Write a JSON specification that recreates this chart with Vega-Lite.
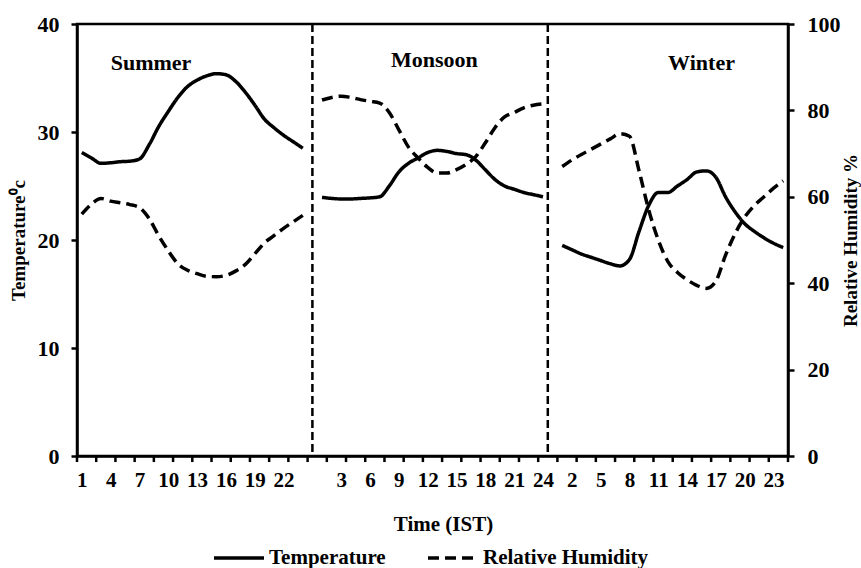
{
  "$schema": "https://vega.github.io/schema/vega-lite/v6.json",
  "width": 711,
  "height": 432,
  "autosize": {"type": "none"},
  "padding": {"left": 77, "top": 24, "right": 73, "bottom": 112},
  "background": "white",
  "config": {
    "view": {"stroke": "black", "strokeWidth": 2.5},
    "font": "Liberation Serif",
    "axis": {
      "grid": false,
      "domainColor": "black",
      "domainWidth": 2.5,
      "tickColor": "black",
      "tickWidth": 2.5,
      "tickSize": 6,
      "labelColor": "black",
      "labelFont": "Liberation Serif",
      "labelFontWeight": "bold",
      "labelFontSize": 22,
      "titleColor": "black",
      "titleFont": "Liberation Serif",
      "titleFontWeight": "bold",
      "titleFontSize": 19
    },
    "axisX": {"labelOverlap": false, "labelFlush": false, "labelBound": false, "labelFontSize": 21, "titleFontSize": 21}
  },
  "datasets": {
    "climate": [
      {"idx": 1, "season": "Summer", "temp": 28.1, "rh": 56.0},
      {"idx": 2, "season": "Summer", "temp": 27.6, "rh": 58.3},
      {"idx": 3, "season": "Summer", "temp": 27.1, "rh": 59.6},
      {"idx": 4, "season": "Summer", "temp": 27.15, "rh": 59.0},
      {"idx": 5, "season": "Summer", "temp": 27.25, "rh": 58.6},
      {"idx": 6, "season": "Summer", "temp": 27.3, "rh": 58.2},
      {"idx": 7, "season": "Summer", "temp": 27.5, "rh": 57.5},
      {"idx": 8, "season": "Summer", "temp": 28.8, "rh": 55.0},
      {"idx": 9, "season": "Summer", "temp": 30.5, "rh": 51.0},
      {"idx": 10, "season": "Summer", "temp": 31.9, "rh": 47.5},
      {"idx": 11, "season": "Summer", "temp": 33.2, "rh": 44.5},
      {"idx": 12, "season": "Summer", "temp": 34.2, "rh": 43.0},
      {"idx": 13, "season": "Summer", "temp": 34.8, "rh": 42.2},
      {"idx": 14, "season": "Summer", "temp": 35.2, "rh": 41.6},
      {"idx": 15, "season": "Summer", "temp": 35.4, "rh": 41.5},
      {"idx": 16, "season": "Summer", "temp": 35.3, "rh": 41.8},
      {"idx": 17, "season": "Summer", "temp": 34.7, "rh": 42.8},
      {"idx": 18, "season": "Summer", "temp": 33.7, "rh": 44.3},
      {"idx": 19, "season": "Summer", "temp": 32.5, "rh": 46.8},
      {"idx": 20, "season": "Summer", "temp": 31.2, "rh": 49.3},
      {"idx": 21, "season": "Summer", "temp": 30.4, "rh": 51.0},
      {"idx": 22, "season": "Summer", "temp": 29.7, "rh": 52.7},
      {"idx": 23, "season": "Summer", "temp": 29.1, "rh": 54.2},
      {"idx": 24, "season": "Summer", "temp": 28.5, "rh": 55.7},
      {"idx": 26, "season": "Monsoon", "temp": 23.95, "rh": 82.4},
      {"idx": 27, "season": "Monsoon", "temp": 23.85, "rh": 83.0},
      {"idx": 28, "season": "Monsoon", "temp": 23.8, "rh": 83.3},
      {"idx": 29, "season": "Monsoon", "temp": 23.8, "rh": 83.0},
      {"idx": 30, "season": "Monsoon", "temp": 23.85, "rh": 82.5},
      {"idx": 31, "season": "Monsoon", "temp": 23.9, "rh": 82.1},
      {"idx": 32, "season": "Monsoon", "temp": 24.0, "rh": 81.7},
      {"idx": 33, "season": "Monsoon", "temp": 25.0, "rh": 79.5},
      {"idx": 34, "season": "Monsoon", "temp": 26.3, "rh": 75.5},
      {"idx": 35, "season": "Monsoon", "temp": 27.1, "rh": 71.5},
      {"idx": 36, "season": "Monsoon", "temp": 27.6, "rh": 69.0},
      {"idx": 37, "season": "Monsoon", "temp": 28.1, "rh": 66.8},
      {"idx": 38, "season": "Monsoon", "temp": 28.3, "rh": 65.5},
      {"idx": 39, "season": "Monsoon", "temp": 28.2, "rh": 65.5},
      {"idx": 40, "season": "Monsoon", "temp": 28.0, "rh": 66.3},
      {"idx": 41, "season": "Monsoon", "temp": 27.9, "rh": 67.5},
      {"idx": 42, "season": "Monsoon", "temp": 27.4, "rh": 69.3},
      {"idx": 43, "season": "Monsoon", "temp": 26.5, "rh": 72.5},
      {"idx": 44, "season": "Monsoon", "temp": 25.6, "rh": 76.0},
      {"idx": 45, "season": "Monsoon", "temp": 25.0, "rh": 78.5},
      {"idx": 46, "season": "Monsoon", "temp": 24.7, "rh": 79.5},
      {"idx": 47, "season": "Monsoon", "temp": 24.4, "rh": 80.6},
      {"idx": 48, "season": "Monsoon", "temp": 24.2, "rh": 81.2},
      {"idx": 49, "season": "Monsoon", "temp": 24.0, "rh": 81.5},
      {"idx": 51, "season": "Winter", "temp": 19.5, "rh": 67.0},
      {"idx": 52, "season": "Winter", "temp": 19.1, "rh": 68.5},
      {"idx": 53, "season": "Winter", "temp": 18.7, "rh": 69.8},
      {"idx": 54, "season": "Winter", "temp": 18.4, "rh": 71.0},
      {"idx": 55, "season": "Winter", "temp": 18.1, "rh": 72.2},
      {"idx": 56, "season": "Winter", "temp": 17.8, "rh": 73.4},
      {"idx": 57, "season": "Winter", "temp": 17.6, "rh": 74.6},
      {"idx": 58, "season": "Winter", "temp": 18.2, "rh": 74.0},
      {"idx": 59, "season": "Winter", "temp": 20.8, "rh": 66.0},
      {"idx": 60, "season": "Winter", "temp": 23.2, "rh": 57.0},
      {"idx": 61, "season": "Winter", "temp": 24.4, "rh": 50.0},
      {"idx": 62, "season": "Winter", "temp": 24.4, "rh": 45.0},
      {"idx": 63, "season": "Winter", "temp": 25.0, "rh": 42.5},
      {"idx": 64, "season": "Winter", "temp": 25.6, "rh": 40.8},
      {"idx": 65, "season": "Winter", "temp": 26.3, "rh": 39.5},
      {"idx": 66, "season": "Winter", "temp": 26.4, "rh": 38.8},
      {"idx": 67, "season": "Winter", "temp": 25.8, "rh": 40.5},
      {"idx": 68, "season": "Winter", "temp": 24.0, "rh": 46.5},
      {"idx": 69, "season": "Winter", "temp": 22.6, "rh": 51.5},
      {"idx": 70, "season": "Winter", "temp": 21.5, "rh": 55.3},
      {"idx": 71, "season": "Winter", "temp": 20.8, "rh": 58.0},
      {"idx": 72, "season": "Winter", "temp": 20.2, "rh": 60.0},
      {"idx": 73, "season": "Winter", "temp": 19.7, "rh": 62.0},
      {"idx": 74, "season": "Winter", "temp": 19.3, "rh": 63.7}
    ],
    "separators": [{"idx": 25}, {"idx": 49.5}],
    "xTicks": [
      {"idx": 0.5}, {"idx": 2.5}, {"idx": 4.5}, {"idx": 6.5}, {"idx": 8.5}, {"idx": 10.5}, {"idx": 12.5}, {"idx": 14.5},
      {"idx": 16.5}, {"idx": 18.5}, {"idx": 20.5}, {"idx": 22.5}, {"idx": 24.5}, {"idx": 26.5}, {"idx": 28.5}, {"idx": 30.5},
      {"idx": 32.5}, {"idx": 34.5}, {"idx": 36.5}, {"idx": 38.5}, {"idx": 40.5}, {"idx": 42.5}, {"idx": 44.5}, {"idx": 46.5},
      {"idx": 48.5}, {"idx": 50.5}, {"idx": 52.5}, {"idx": 54.5}, {"idx": 56.5}, {"idx": 58.5}, {"idx": 60.5}, {"idx": 62.5},
      {"idx": 64.5}, {"idx": 66.5}, {"idx": 68.5}, {"idx": 70.5}, {"idx": 72.5}, {"idx": 74.5}
    ],
    "seasonLabels": [
      {"label": "Summer", "idx": 8.2, "temp": 36.4},
      {"label": "Monsoon", "idx": 37.7, "temp": 36.7},
      {"label": "Winter", "idx": 65.5, "temp": 36.4}
    ]
  },
  "layer": [
    {
      "data": {"name": "climate"},
      "mark": {"type": "line", "interpolate": "monotone", "strokeWidth": 3.5, "color": "black"},
      "encoding": {
        "x": {
          "field": "idx",
          "type": "quantitative",
          "title": "Time (IST)",
          "scale": {"domain": [0.5, 74.5], "nice": false, "zero": false},
          "axis": {
            "values": [1, 4, 7, 10, 13, 16, 19, 22, 28, 31, 34, 37, 40, 43, 46, 49, 52, 55, 58, 61, 64, 67, 70, 73],
            "labelExpr": "'' + (datum.value <= 24 ? datum.value : (datum.value <= 49 ? datum.value - 25 : datum.value - 50))",
            "tickOpacity": 0,
            "labelOverlap": false,
            "labelFlush": false,
            "labelBound": false,
            "labelPadding": 7,
            "titleX": 366,
            "titleY": 68,
            "titleAlign": "center",
            "titleBaseline": "middle"
          }
        },
        "y": {
          "field": "temp",
          "type": "quantitative",
          "title": "Temperature⁰c",
          "scale": {"domain": [0, 40], "nice": false, "zero": true},
          "axis": {
            "values": [0, 10, 20, 30, 40],
            "labelPadding": 12,
            "titleX": -59,
            "titleY": 216,
            "titleAngle": 270,
            "titleAlign": "center",
            "titleBaseline": "middle"
          }
        },
        "detail": {"field": "season", "type": "nominal"},
        "strokeDash": {
          "datum": "Temperature",
          "type": "nominal",
          "scale": {"domain": ["Temperature", "Relative Humidity"], "range": [[1, 0], [11, 6]]},
          "legend": {
            "orient": "none",
            "legendX": 135,
            "legendY": 507,
            "direction": "horizontal",
            "title": null,
            "symbolType": "stroke",
            "symbolSize": 2500,
            "symbolStrokeWidth": 3.5,
            "symbolStrokeColor": "black",
            "labelFont": "Liberation Serif",
            "labelFontWeight": "bold",
            "labelFontSize": 21,
            "labelColor": "black",
            "labelOffset": 3,
            "columnPadding": 35,
            "labelLimit": 400
          }
        }
      }
    },
    {
      "data": {"name": "xTicks"},
      "mark": {"type": "rule", "strokeWidth": 2.5, "color": "black", "clip": false},
      "encoding": {
        "x": {"field": "idx", "type": "quantitative", "axis": null},
        "y": {"datum": 0, "type": "quantitative", "scale": {"domain": [0, 40], "nice": false, "zero": true}, "axis": null},
        "y2": {"datum": -0.56}
      }
    },
    {
      "data": {"name": "seasonLabels"},
      "mark": {"type": "text", "font": "Liberation Serif", "fontWeight": "bold", "fontSize": 22, "color": "black", "align": "center", "baseline": "middle"},
      "encoding": {
        "x": {"field": "idx", "type": "quantitative", "axis": null},
        "y": {"field": "temp", "type": "quantitative", "scale": {"domain": [0, 40], "nice": false, "zero": true}, "axis": null},
        "text": {"field": "label"}
      }
    },
    {
      "data": {"name": "separators"},
      "mark": {"type": "rule", "strokeDash": [8, 4], "strokeWidth": 2.5, "color": "black"},
      "encoding": {
        "x": {"field": "idx", "type": "quantitative", "axis": null}
      }
    },
    {
      "data": {"name": "climate"},
      "mark": {"type": "line", "interpolate": "monotone", "strokeWidth": 3.5, "color": "black"},
      "encoding": {
        "x": {"field": "idx", "type": "quantitative", "axis": null},
        "y": {
          "field": "rh",
          "type": "quantitative",
          "title": "Relative Humidity %",
          "scale": {"domain": [0, 100], "nice": false, "zero": true},
          "axis": {
            "orient": "right",
            "values": [0, 20, 40, 60, 80, 100],
            "labelPadding": 13,
            "titleX": 62,
            "titleY": 216,
            "titleAngle": 270,
            "titleAlign": "center",
            "titleBaseline": "middle"
          }
        },
        "detail": {"field": "season", "type": "nominal"},
        "strokeDash": {"datum": "Relative Humidity", "type": "nominal"}
      }
    }
  ],
  "resolve": {"scale": {"y": "independent"}, "axis": {"x": "independent", "y": "independent"}}
}
